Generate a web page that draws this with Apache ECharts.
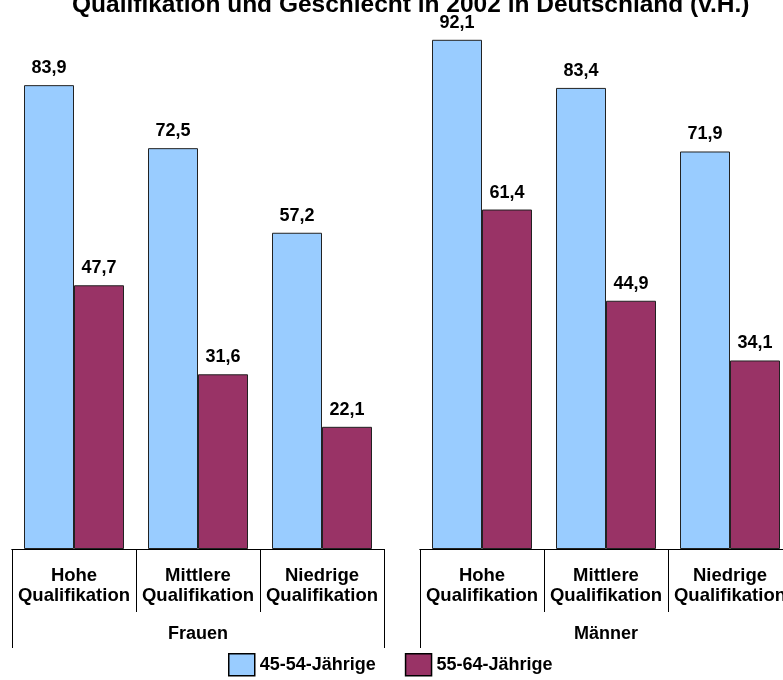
<!DOCTYPE html>
<html>
<head>
<meta charset="utf-8">
<script src="https://cdn.jsdelivr.net/npm/echarts@6/dist/echarts.min.js"></script>
<style>
html,body{margin:0;padding:0;background:#fff;overflow:hidden;width:783px;height:680px;}
#c{width:800px;height:680px;}
</style>
</head>
<body>
<div id="c"></div>
<script>
var titleText = 'Qualifikation und Geschlecht in 2002 in Deutschland (v.H.)';
var categories = ['Hohe\nQualifikation', 'Mittlere\nQualifikation', 'Niedrige\nQualifikation'];
var groups = ['Frauen', 'Männer'];
var seriesNames = ['45-54-Jährige', '55-64-Jährige'];
var frauen4554 = [83.9, 72.5, 57.2];
var frauen5564 = [47.7, 31.6, 22.1];
var maenner4554 = [92.1, 83.4, 71.9];
var maenner5564 = [61.4, 44.9, 34.1];

var FONT = '"Liberation Sans", Arial, sans-serif';
var colors = ['#99CCFF', '#993366'];

function fmt(p) { return p.value.toFixed(1).replace('.', ','); }

function catAxis(gi) {
  return {
    type: 'category', gridIndex: gi, data: categories, position: 'bottom',
    axisLine: { show: true, lineStyle: { color: '#000', width: 1 } },
    axisTick: { show: true, length: 63, interval: 0, lineStyle: { color: '#000', width: 1 } },
    axisLabel: { interval: 0, margin: 17, color: '#000', fontFamily: FONT, fontWeight: 'bold', fontSize: 18.5, lineHeight: 20 }
  };
}
function groupAxis(gi) {
  return {
    type: 'category', gridIndex: gi, data: [groups[gi]], position: 'bottom',
    axisLine: { show: true, lineStyle: { color: '#000', width: 1 } },
    axisTick: { show: true, length: 99, interval: 0, lineStyle: { color: '#000', width: 1 } },
    axisLabel: { interval: 0, margin: 76, color: '#000', fontFamily: FONT, fontWeight: 'bold', fontSize: 18 }
  };
}
function bar(name, data, xi, yi, ci) {
  return {
    type: 'bar', name: name, data: data, xAxisIndex: xi, yAxisIndex: yi,
    barWidth: 50, barGap: '0%',
    itemStyle: { color: colors[ci], borderColor: '#222', borderWidth: 1 },
    label: { show: true, position: 'top', distance: 8, formatter: fmt, color: '#000', fontFamily: FONT, fontWeight: 'bold', fontSize: 18 },
    emphasis: { disabled: true }
  };
}

var chart = echarts.init(document.getElementById('c'), null, { renderer: 'canvas' });
chart.setOption({
  animation: false,
  backgroundColor: '#fff',
  title: {
    text: titleText, left: 72, top: -7, padding: 0,
    textStyle: { fontFamily: FONT, fontWeight: 'bold', fontSize: 24.5, color: '#000' }
  },
  legend: {
    data: seriesNames, left: 228, top: 653, padding: 0, itemWidth: 26, itemHeight: 22, itemGap: 29,
    icon: 'rect',
    itemStyle: { borderColor: '#000', borderWidth: 1.5 },
    textStyle: { fontFamily: FONT, fontWeight: 'bold', fontSize: 18, color: '#000' }
  },
  grid: [
    { left: 12, width: 372, top: 0, height: 549 },
    { left: 420, width: 372, top: 0, height: 549 }
  ],
  xAxis: [catAxis(0), groupAxis(0), catAxis(1), groupAxis(1)],
  yAxis: [
    { type: 'value', gridIndex: 0, min: 0, max: 99.3, show: false },
    { type: 'value', gridIndex: 1, min: 0, max: 99.3, show: false }
  ],
  series: [
    bar(seriesNames[0], frauen4554, 0, 0, 0),
    bar(seriesNames[1], frauen5564, 0, 0, 1),
    bar(seriesNames[0], maenner4554, 2, 1, 0),
    bar(seriesNames[1], maenner5564, 2, 1, 1)
  ]
});
</script>
</body>
</html>
